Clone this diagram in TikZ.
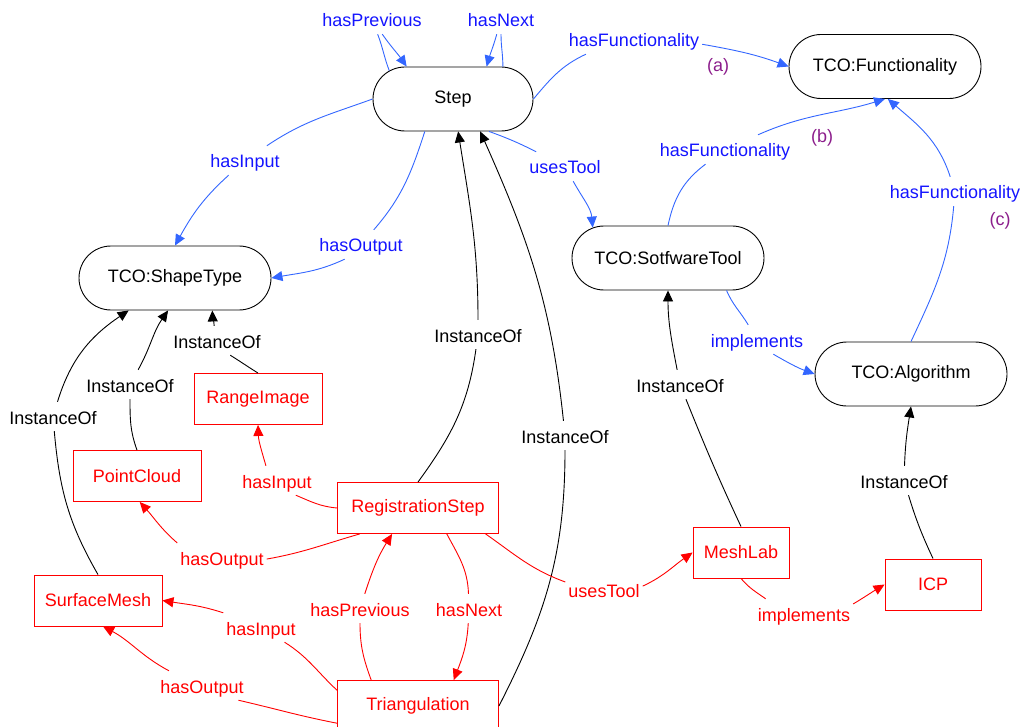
\documentclass[tikz,border=0pt]{standalone}
\usepackage{fontspec}
\setmainfont{Liberation Sans}
\usetikzlibrary{shapes.misc,arrows.meta}

\definecolor{lineblue}{RGB}{51,102,255}
\definecolor{textblue}{RGB}{20,20,255}
\definecolor{notepurple}{RGB}{140,30,140}

\begin{document}
\begin{tikzpicture}[
    x=1pt, y=1pt,
    font=\fontsize{18}{21}\selectfont
]

% =========================
% Styles
% =========================
\tikzstyle{cls} = [
    rounded rectangle, draw,
    line width=0.9pt,
    inner xsep=-11pt,
    minimum width=170pt,
    minimum height=64pt
]

\tikzstyle{inst} = [
    rectangle, draw=red,
    text=red,
    line width=0.9pt,
    minimum height=51pt
]

\tikzstyle{pred} = [inner xsep=3pt, inner ysep=2pt, text height=20pt, text depth=5pt]
\tikzstyle{bpred} = [pred, text=textblue]
\tikzstyle{rpred} = [pred, text=red]
\tikzstyle{kpred} = [pred, text=black]
\tikzstyle{note} = [text=notepurple]

\tikzstyle{bline} = [draw=lineblue, line width=0.9pt, -{Triangle[length=11pt,width=10pt]}]
\tikzstyle{rline} = [draw=red, line width=0.9pt, -{Triangle[length=11pt,width=10pt]}]
\tikzstyle{kline} = [draw=black, line width=0.9pt, -{Triangle[length=11pt,width=10pt]}]

\useasboundingbox (0,0) rectangle (1022,-727);

% =========================
% Classes
% =========================
\node[cls, minimum width=138pt] (step) at (453,-99) {Step};
\node[cls] (func) at (885,-66.5) {TCO:Functionality};
\node[cls] (shape) at (175,-278) {TCO:ShapeType};
\node[cls] (tool) at (668,-258) {TCO:SotfwareTool};
\node[cls] (algo) at (911,-374) {TCO:Algorithm};

% =========================
% Instances
% =========================
\node[inst, minimum width=128pt] (range) at (258,-399) {RangeImage};
\node[inst, minimum width=128pt] (cloud) at (137,-476) {PointCloud};
\node[inst, minimum width=161pt] (regstep) at (418,-508) {RegistrationStep};
\node[inst, minimum width=161pt] (triang) at (418,-706) {Triangulation};
\node[inst, minimum width=128pt] (mesh) at (98,-600.5) {SurfaceMesh};
\node[inst, minimum width=96pt] (meshlab) at (741,-552.5) {MeshLab};
\node[inst, minimum width=96pt] (icp) at (933,-584.5) {ICP};

% =========================
% Edge labels
% =========================
\node[bpred] (hprev) at (372,-19.5) {hasPrevious};
\node[bpred] (hnext) at (501,-19.5) {hasNext};
\node[bpred] (hfa) at (634,-39.5) {hasFunctionality};
\node[bpred] (hin) at (245,-160.5) {hasInput};
\node[bpred] (hout) at (361,-244.5) {hasOutput};
\node[bpred] (tuse) at (565,-166.5) {usesTool};
\node[bpred] (hfb) at (725,-149.5) {hasFunctionality};
\node[bpred] (hfc) at (955,-191.5) {hasFunctionality};
\node[bpred] (impb) at (757,-339.5) {implements};

\node[kpred] (ioRange) at (217,-340.5) {InstanceOf};
\node[kpred] (ioCloud) at (130,-384.5) {InstanceOf};
\node[kpred] (ioMesh) at (53,-416.5) {InstanceOf};
\node[kpred] (ioReg) at (478,-334.5) {InstanceOf};
\node[kpred] (ioTri) at (565,-435.5) {InstanceOf};
\node[kpred] (ioLab) at (680,-384.5) {InstanceOf};
\node[kpred] (ioIcp) at (904,-480.5) {InstanceOf};

\node[rpred] (hinr) at (277,-480.5) {hasInput};
\node[rpred] (houtr) at (222,-557.5) {hasOutput};
\node[rpred] (utr) at (604,-589.5) {usesTool};
\node[rpred] (hpr) at (360,-608.5) {hasPrevious};
\node[rpred] (hnr) at (469,-608.5) {hasNext};
\node[rpred] (hint) at (261,-627.5) {hasInput};
\node[rpred] (houtt) at (202,-685.5) {hasOutput};
\node[rpred] (impr) at (804,-613.5) {implements};

\node[note] (notea) at (718,-67) {(a)};
\node[note] (noteb) at (822,-138) {(b)};
\node[note] (notec) at (1000,-221) {(c)};

% =========================
% Schema edges
% =========================
\draw[bline] (step.156) to[out=111,in=-69] (hprev) to[out=-55,in=125] (step.145);
\draw[bline] (step.33) to[out=90,in=-90] (hnext) to[out=-106,in=74] (step.44);
\draw[bline] (step.east) to[out=50,in=205] (hfa.197) (hfa.-4) to[out=-10,in=160] (func.west);
\draw[bline] (step.west) to[out=200,in=34] (hin) to[out=222,in=61] (shape.north);
\draw[bline] (step.229) to[out=252,in=49] (hout) (hout.222) to[out=205,in=10] (shape.east);
\draw[bline] (step.-42) to[out=-20,in=153] (tuse) to[out=-61,in=95] (tool.158);
\draw[bline] (tool.north) to[out=78,in=217] (hfb) to[out=24,in=197] (func.south);
\draw[bline] (algo.north) to[out=65,in=-95] (hfc) to[out=108,in=-41] (func.-85);
\draw[bline] (tool.-29) to[out=-67,in=121] (impb) (impb.-42) to[out=-30,in=160] (algo.west);

% =========================
% InstanceOf edges
% =========================
\draw[kline] (range.north) to[out=148,in=-32] (ioRange.-48) (ioRange.101) to[out=92,in=-88] (shape.-41);
\draw[kline] (cloud.north) to[out=110,in=-90] (ioCloud) to[out=61,in=235] (shape.-102);
\draw[kline] (mesh.north) to[out=120,in=-85] (ioMesh) to[out=73,in=214] (shape.-145);
\draw[kline] (regstep.north) to[out=54,in=262] (ioReg) to[out=90,in=-81] (step.-81);
\draw[kline] (triang.east) to[out=63,in=-90] (ioTri) to[out=96,in=-66] (step.-50);
\draw[kline] (meshlab.north) to[out=115,in=-68] (ioLab) to[out=101,in=-90] (tool.south);
\draw[kline] (icp.north) to[out=115,in=-73] (ioIcp) to[out=88,in=-99] (algo.south);

% =========================
% Instance edges
% =========================
\draw[rline] (regstep.west) to[out=175,in=-23] (hinr.-38) (hinr.127) to[out=106,in=-88] (range.south);
\draw[rline] (regstep.204) to[out=196,in=10] (houtr.-2) (houtr.162) to[out=139,in=-48] (cloud.-84);
\draw[rline] (regstep.-21) to[out=-35,in=160] (utr.169) (utr.5) to[out=25,in=215] (meshlab.west);
\draw[rline] (regstep.-42) to[out=-62,in=92] (hnr) to[out=-93,in=69] (triang.36);
\draw[rline] (triang.151) to[out=110,in=-90] (hpr) to[out=72,in=238] (regstep.-135);
\draw[rline] (triang.169) to[out=137,in=-32] (hint) (hint.north west) to[out=162,in=-9] (mesh.east);
\draw[rline] (triang.192) to[out=169,in=-13] (houtt.-22) (houtt.156) to[out=152,in=-28] (mesh.-79);
\draw[rline] (meshlab.south) to[out=-50,in=145] (impr.159) (impr.11) to[out=31,in=211] (icp.west);

\end{tikzpicture}
\end{document}
